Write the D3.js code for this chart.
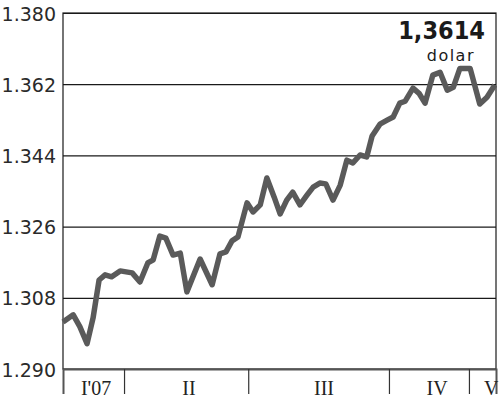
<!DOCTYPE html>
<meta charset="utf-8">
<html>
<head>
<style>
  body { margin: 0; background: #fff; }
</style>
</head>
<body>
<script src="https://d3js.org/d3.v7.min.js"></script>
<div id="chart"></div>
<script>

// trading day index and EUR/USD rate
var days = [0, 1.7, 2.8, 4.0, 5.0, 6.0, 7.0, 8.1, 9.5, 11.5, 12.8, 14.1, 15.0, 16.1, 17.1, 18.3,
  19.5, 20.6, 22.8, 24.8, 26.1, 27.1, 28.1, 29.1, 30.6, 31.6, 32.8, 33.9, 35.1, 36.1, 37.2,
  38.2, 39.4, 40.6, 41.6, 42.7, 43.7, 44.9, 46.1, 47.2, 48.2, 49.4, 50.5, 51.4, 52.7, 53.9,
  54.9, 56.0, 56.9, 58.2, 59.2, 60.2, 61.5, 62.7, 63.9, 64.9, 66.0, 67.7, 69.3, 70.5, 71.8];
var rates = [1.3019, 1.3037, 1.3007, 1.2964, 1.3029, 1.3125, 1.3138, 1.3133, 1.3148, 1.3143,
  1.3120, 1.3168, 1.3176, 1.3236, 1.3231, 1.3188, 1.3193, 1.3095, 1.3178, 1.3113, 1.3191,
  1.3196, 1.3224, 1.3234, 1.3320, 1.3297, 1.3315, 1.3383, 1.3335, 1.3292, 1.3327, 1.3347,
  1.3315, 1.3340, 1.3360, 1.3370, 1.3368, 1.3327, 1.3365, 1.3428, 1.3421, 1.3441, 1.3436,
  1.3489, 1.3519, 1.3529, 1.3537, 1.3572, 1.3577, 1.3610, 1.3597, 1.3572, 1.3643, 1.3650,
  1.3605, 1.3612, 1.3660, 1.3660, 1.3570, 1.3587, 1.3618];

var yTicks = [1.290, 1.308, 1.326, 1.344, 1.362, 1.380];
var monthLabels = ["I'07", "II", "III", "IV", "V"];
var monthCenters = [5.5, 20.95, 43.4, 62.2, 71.2];
var monthBreaks = [10.15, 30.8, 54.2, 67.5];
var lastValue = "1,3614";
var unitLabel = "dolar";

var margin = {top: 13, right: 4, bottom: 32, left: 63},
    width = 500 - margin.left - margin.right,
    height = 401 - margin.top - margin.bottom;

var svg = d3.select("#chart")
  .append("svg")
    .attr("width", 500)
    .attr("height", 401)
  .append("g")
    .attr("transform", "translate(" + margin.left + "," + margin.top + ")");

var x = d3.scaleLinear()
  .domain([0, 72])
  .range([0, width]);

var y = d3.scaleLinear()
  .domain([1.290, 1.380])
  .range([height, 0]);

// gridlines + y labels
svg.append("g")
  .call(d3.axisLeft(y).tickValues(yTicks).tickSize(-width).tickFormat(d3.format(".3f")))
  .call(function(g) {
    g.select(".domain").remove();
    g.selectAll(".tick line").attr("stroke", "#1a1a1a").attr("stroke-width", 1.2);
    g.selectAll(".tick text")
      .attr("x", -7)
      .attr("dy", "0.37em")
      .style("font-family", "DejaVu Sans")
      .style("font-size", "19px")
      .attr("fill", "#2a2a2a");
  });

// frame
svg.append("rect")
  .attr("x", 0)
  .attr("y", 0)
  .attr("width", width)
  .attr("height", height)
  .attr("fill", "none")
  .attr("stroke", "#1a1a1a")
  .attr("stroke-width", 1.2);

// bottom axis: month separators
svg.append("g")
  .attr("transform", "translate(0," + height + ")")
  .call(d3.axisBottom(x).tickValues(monthBreaks).tickSize(25).tickFormat(""))
  .call(function(g) {
    g.select(".domain").attr("stroke", "#555").attr("stroke-width", 2);
    g.selectAll(".tick line").attr("stroke", "#333").attr("stroke-width", 1.2);
  });

svg.append("g")
  .selectAll("text")
  .data(monthLabels)
  .enter()
  .append("text")
    .attr("x", function(d, i) { return x(monthCenters[i]); })
    .attr("y", height + 26)
    .attr("text-anchor", "middle")
    .style("font-family", "Liberation Serif")
    .style("font-size", "20px")
    .attr("fill", "#222")
    .text(function(d) { return d; });

var line = d3.line()
  .x(function(d, i) { return x(days[i]); })
  .y(function(d) { return y(d); });

svg.append("path")
  .datum(rates)
  .attr("d", line)
  .attr("fill", "none")
  .attr("stroke", "#5a5a5a")
  .attr("stroke-width", 5.5)
  .attr("stroke-linejoin", "round")
  .attr("stroke-linecap", "butt");

svg.append("text")
  .attr("x", 485 - margin.left)
  .attr("y", 39 - margin.top)
  .attr("text-anchor", "end")
  .style("font-family", "DejaVu Sans Condensed, DejaVu Sans")
  .style("font-stretch", "condensed")
  .style("font-weight", "bold")
  .style("font-size", "25px")
  .attr("fill", "#1a1a1a")
  .text(lastValue);

svg.append("text")
  .attr("x", 475 - margin.left)
  .attr("y", 61 - margin.top)
  .attr("text-anchor", "end")
  .style("font-family", "DejaVu Sans")
  .style("font-size", "16px")
  .style("letter-spacing", "1.5px")
  .attr("fill", "#1a1a1a")
  .text(unitLabel);

</script>
</body>
</html>
